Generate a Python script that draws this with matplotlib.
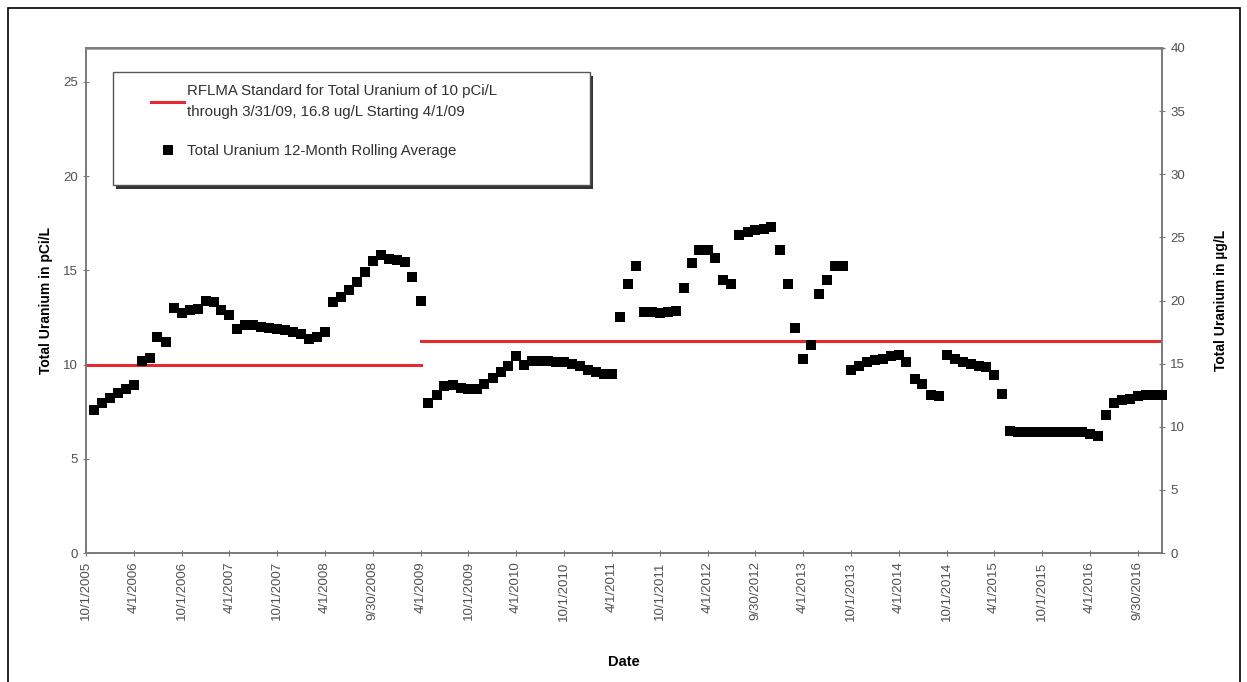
import matplotlib
matplotlib.use("Agg")
import matplotlib.pyplot as plt
from matplotlib.patches import Rectangle
from matplotlib.lines import Line2D
import pandas as pd

plt.rcParams['font.family'] = ['Liberation Sans', 'DejaVu Sans']

# 12-month rolling average, pCi/L (through 3/31/09), plotted on left axis
pci_start = "2005-11-01"
pci_values = [7.6, 7.95, 8.25, 8.5, 8.7, 8.9, 10.2, 10.35, 11.45, 11.2,
              13.0, 12.75, 12.9, 12.95, 13.4, 13.3, 12.9, 12.65, 11.9, 12.1,
              12.1, 12.0, 11.95, 11.9, 11.85, 11.75, 11.6, 11.35, 11.45, 11.75,
              13.3, 13.6, 13.95, 14.4, 14.9, 15.5, 15.8, 15.6, 15.55, 15.45,
              14.65, 13.4]

# 12-month rolling average, ug/L (from 4/1/09), plotted on right axis
ugl_start = "2009-05-01"
ugl_values = [11.9, 12.5, 13.2, 13.3, 13.1, 13.0, 13.0, 13.4, 13.9, 14.3,
              14.8, 15.6, 14.9, 15.2, 15.2, 15.2, 15.15, 15.1, 15.0, 14.8,
              14.5, 14.3, 14.2, 14.2, 18.7, 21.3, 22.7, 19.1, 19.1, 19.0,
              19.1, 19.2, 21.0, 23.0, 24.0, 24.0, 23.4, 21.6, 21.3, 25.2,
              25.4, 25.6, 25.7, 25.8, 24.0, 21.3, 17.8, 15.4, 16.5, 20.5,
              21.6, 22.7, 22.7, 14.5, 14.8, 15.1, 15.3, 15.4, 15.6, 15.7,
              15.1, 13.8, 13.4, 12.5, 12.4, 15.7, 15.4, 15.1, 15.0, 14.8,
              14.7, 14.1, 12.6, 9.7, 9.6, 9.6, 9.6, 9.6, 9.6, 9.6,
              9.6, 9.6, 9.6, 9.4, 9.3, 10.9, 11.9, 12.1, 12.2, 12.4,
              12.5, 12.5, 12.5]

# RFLMA standard
std_pci = 10.0
std_ugl = 16.8
std_change = "2009-04-01"

x_start = "2005-10-01"
x_end = "2017-01-01"
tick_labels = ["10/1/2005", "4/1/2006", "10/1/2006", "4/1/2007", "10/1/2007",
               "4/1/2008", "9/30/2008", "4/1/2009", "10/1/2009", "4/1/2010",
               "10/1/2010", "4/1/2011", "10/1/2011", "4/1/2012", "9/30/2012",
               "4/1/2013", "10/1/2013", "4/1/2014", "10/1/2014", "4/1/2015",
               "10/1/2015", "4/1/2016", "9/30/2016"]

pci_dates = pd.date_range(pci_start, periods=len(pci_values), freq="MS")
ugl_dates = pd.date_range(ugl_start, periods=len(ugl_values), freq="MS")
tick_dates = pd.to_datetime(tick_labels, format="%m/%d/%Y")

fig = plt.figure(figsize=(12.47, 6.82), dpi=100)
ax = fig.add_axes([86 / 1247, 1 - 553 / 682, 1076 / 1247, 505 / 682])
ax2 = ax.twinx()

red = "#e42a2f"
ax.plot(pd.to_datetime([x_start, std_change]), [std_pci, std_pci], color=red, lw=2.2, zorder=2)
ax2.plot(pd.to_datetime([std_change, x_end]), [std_ugl, std_ugl], color=red, lw=2.2, zorder=2)

ax.plot(pci_dates, pci_values, 's', color='black', ms=6.5, mew=0, zorder=3, clip_on=False)
ax2.plot(ugl_dates, ugl_values, 's', color='black', ms=6.5, mew=0, zorder=3, clip_on=False)

ax.set_xlim(pd.Timestamp(x_start), pd.Timestamp(x_end))
ax.set_ylim(0, 26.8)
ax2.set_ylim(0, 40)
ax.set_yticks([0, 5, 10, 15, 20, 25])
ax2.set_yticks([0, 5, 10, 15, 20, 25, 30, 35, 40])
ax.set_xticks(tick_dates)
ax.set_xticklabels(tick_labels, rotation=90)

grey = "#7a7a7a"
for a in (ax, ax2):
    for s in a.spines.values():
        s.set_color(grey)
        s.set_linewidth(1.2)
    a.tick_params(colors=grey, labelcolor="#505050", labelsize=9.5, direction='inout', length=5)
ax.spines['top'].set_color('#9a9a9a')
ax.spines['top'].set_linewidth(2)

ax.set_ylabel("Total Uranium in pCi/L", fontsize=10, fontweight='bold', labelpad=7)
ax2.set_ylabel("Total Uranium in \u00b5g/L", fontsize=10, fontweight='bold', rotation=90, labelpad=21)
ax.set_xlabel("Date", fontsize=10.5, fontweight='bold', labelpad=25)

# legend box with shadow
bx, by, bw, bh = 27 / 1076, (553 - 185) / 505, 477 / 1076, 113 / 505
ax2.add_patch(Rectangle((bx + 0.003, by - 0.007), bw, bh, transform=ax.transAxes,
                        facecolor='#333333', edgecolor='none', zorder=4))
ax2.add_patch(Rectangle((bx, by), bw, bh, transform=ax.transAxes,
                        facecolor='white', edgecolor='#555555', lw=1, zorder=5))
handles = [Line2D([], [], color=red, lw=2.2),
           Line2D([], [], marker='s', color='black', ls='none', ms=6.5, mew=0)]
labels = ["RFLMA Standard for Total Uranium of 10 pCi/L\nthrough 3/31/09, 16.8 ug/L Starting 4/1/09",
          "Total Uranium 12-Month Rolling Average"]
leg = ax2.legend(handles, labels, loc='upper left', bbox_to_anchor=(bx + 0.030, by + bh - 0.012),
                 frameon=False, fontsize=10.8, handlelength=2.2, handletextpad=0.2,
                 labelspacing=1.7, borderaxespad=0)
leg.set_zorder(6)
for t in leg.get_texts():
    t.set_color('#303030')
    t.set_linespacing(1.6)

fig.add_artist(Rectangle((8 / 1247, -0.01), 1232 / 1247, 1 - 8 / 682 + 0.01,
                         transform=fig.transFigure, fill=False, edgecolor='black', lw=1.2))

fig.savefig("out.png", dpi=100)
